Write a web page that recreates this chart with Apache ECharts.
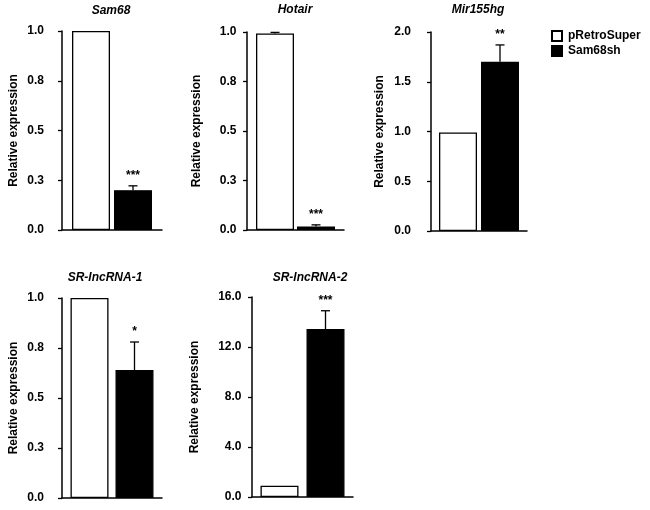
<!DOCTYPE html>
<html style="height: 100%">
<head>
<meta charset="utf-8">
</head>
<body style="height: 100%; margin: 0; background: #fff">
<div id="container" style="width: 650px; height: 510px"></div>
<script src="https://cdn.jsdelivr.net/npm/echarts@6/dist/echarts.min.js"></script>
<script>
// values
var panels = ['Sam68', 'Hotair', 'Mir155hg', 'SR-lncRNA-1', 'SR-lncRNA-2'];
var pRetroSuper = [1.0, 0.993, 0.99, 1.0, 0.9];
var pRetroSuperErr = [0, 0.005, 0, 0, 0];
var sam68sh = [0.2, 0.018, 1.70, 0.64, 13.44];
var sam68shErr = [0.022, 0.008, 0.17, 0.14, 1.46];
var stars = ['***', '***', '**', '*', '***'];
var yMax = [1, 1, 2, 1, 16];
var tickLabels = [
    ['0.0', '0.3', '0.5', '0.8', '1.0'],
    ['0.0', '0.3', '0.5', '0.8', '1.0'],
    ['0.0', '0.5', '1.0', '1.5', '2.0'],
    ['0.0', '0.3', '0.5', '0.8', '1.0'],
    ['0.0', '4.0', '8.0', '12.0', '16.0']
];

// layout of each panel
var boxes = [
    {left: 62, top: 31, width: 100, height: 199},
    {left: 247, top: 32, width: 97, height: 198},
    {left: 431, top: 32, width: 96, height: 199},
    {left: 62, top: 298, width: 100, height: 200},
    {left: 252, top: 297, width: 101, height: 200}
];
var gaps = [4, 3, 4, 7, 8];
var labelMargins = [18, 10.5, 20, 18, 10.5];
var nameGaps = [42, 44.5, 45, 42.5, 51.5];
var titlePos = [[111, 4.5], [295, 4], [478, 4], [105, 271.5], [310, 271.5]];
var barW = 38;
var font = 'Liberation Sans, Arial, Helvetica, sans-serif';

var dom = document.getElementById('container');
var myChart = echarts.init(dom);

var grid = [], xAxis = [], yAxis = [], series = [], title = [];

panels.forEach(function (name, i) {
    grid.push(boxes[i]);
    title.push({
        text: name,
        left: titlePos[i][0],
        top: titlePos[i][1],
        textAlign: 'center',
        padding: 0,
        textStyle: {fontFamily: font, fontSize: 12, fontWeight: 'bold', fontStyle: 'italic', color: '#000'}
    });
    xAxis.push({
        type: 'category',
        gridIndex: i,
        data: [''],
        axisLine: {lineStyle: {color: '#000', width: 1.5}},
        axisTick: {show: false},
        axisLabel: {show: false},
        splitLine: {show: false}
    });
    yAxis.push({
        type: 'value',
        gridIndex: i,
        min: 0,
        max: yMax[i],
        interval: yMax[i] / 4,
        name: 'Relative expression',
        nameLocation: 'middle',
        nameGap: nameGaps[i],
        nameTextStyle: {fontFamily: font, fontSize: 12, fontWeight: 'bold', color: '#000'},
        axisLine: {show: true, lineStyle: {color: '#000', width: 1.5}},
        axisTick: {show: true, length: 4, lineStyle: {color: '#000', width: 1.3}},
        axisLabel: {
            margin: labelMargins[i],
            fontFamily: font, fontSize: 12, fontWeight: 'bold', color: '#000',
            formatter: function (v, idx) { return tickLabels[i][idx]; }
        },
        splitLine: {show: false}
    });
    var gap = Math.round(gaps[i] / barW * 1000) / 10 + '%';
    series.push({
        name: 'pRetroSuper', type: 'bar', xAxisIndex: i, yAxisIndex: i,
        barWidth: barW, barGap: gap,
        itemStyle: {color: '#fff', borderColor: '#000', borderWidth: 1.3},
        data: [pRetroSuper[i]]
    });
    series.push({
        name: 'Sam68sh', type: 'bar', xAxisIndex: i, yAxisIndex: i,
        barWidth: barW, barGap: gap,
        itemStyle: {color: '#000', borderColor: '#000', borderWidth: 1.3},
        data: [sam68sh[i]]
    });
    var half = (barW + gaps[i]) / 2;
    series.push({
        name: 'err' + i, type: 'custom', xAxisIndex: i, yAxisIndex: i, z: 5,
        data: [
            [0, pRetroSuper[i], pRetroSuperErr[i], -1, ''],
            [0, sam68sh[i], sam68shErr[i], 1, stars[i]]
        ],
        renderItem: function (params, api) {
            var v = api.value(1), e = api.value(2), side = api.value(3);
            var base = api.coord([0, v]);
            var top = api.coord([0, v + e]);
            var x = base[0] + side * half;
            var kids = [];
            if (e > 0) {
                kids.push({type: 'line', shape: {x1: x, y1: base[1], x2: x, y2: top[1]},
                    style: {stroke: '#000', lineWidth: 1.3}});
                kids.push({type: 'line', shape: {x1: x - 4.5, y1: top[1], x2: x + 4.5, y2: top[1]},
                    style: {stroke: '#000', lineWidth: 1.3}});
            }
            var s = api.value(4);
            if (s) {
                kids.push({type: 'text', x: x, y: top[1] - 10,
                    style: {text: s, fill: '#000', font: 'bold 12px ' + font,
                        textAlign: 'center', textVerticalAlign: 'middle'}});
            }
            return {type: 'group', children: kids};
        }
    });
});

var option = {
    animation: false,
    title: title,
    legend: {
        data: ['pRetroSuper', 'Sam68sh'],
        orient: 'vertical',
        left: 551,
        top: 30,
        padding: 0,
        itemGap: 3,
        itemWidth: 10,
        itemHeight: 10,
        icon: 'rect',
        textStyle: {fontFamily: font, fontSize: 12, fontWeight: 'bold', color: '#000', padding: [0, 0, 0, 1]}
    },
    grid: grid,
    xAxis: xAxis,
    yAxis: yAxis,
    series: series
};

myChart.setOption(option);
</script>
</body>
</html>
